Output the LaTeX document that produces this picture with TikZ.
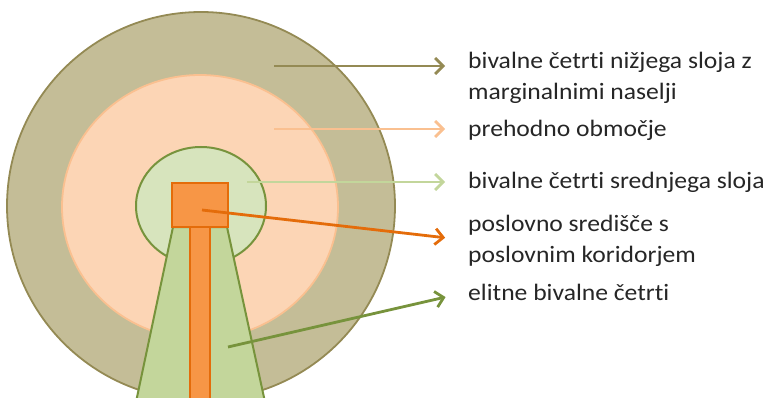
\documentclass[tikz,border=0pt]{standalone}
\usepackage{fontspec}
\setmainfont{Carlito}[FakeStretch=1.09,Ligatures=NoCommon]
\usetikzlibrary{arrows.meta}
\definecolor{ZnOlive}{HTML}{948A54}
\definecolor{ZnTan}{HTML}{C4BD97}
\definecolor{ZnPeach}{HTML}{FCD5B5}
\definecolor{ZnPeachLine}{HTML}{FAC090}
\definecolor{ZnPale}{HTML}{D7E4BD}
\definecolor{ZnLeaf}{HTML}{C3D69B}
\definecolor{ZnGreen}{HTML}{77933C}
\definecolor{ZnOrange}{HTML}{F79646}
\definecolor{ZnRust}{HTML}{E46C0A}
\definecolor{ZnInk}{HTML}{262626}

\begin{document}
\begin{tikzpicture}[x=1pt,y=-1pt,
  lbl/.style={anchor=base west,inner sep=0pt,align=left,text=ZnInk,font=\fontsize{23.5}{31}\selectfont},
  ptr/.style={line width=2.8pt,-{Straight Barb[length=8pt,width=16pt]},shorten >=23pt}]
\path[use as bounding box] (0,0) rectangle (768,398);
% zones
\begin{scope}
\clip (0,0) rectangle (768,398);
\filldraw[fill=ZnTan,draw=ZnOlive,line width=1.8pt] (201,206) circle[radius=194pt];
\filldraw[fill=ZnPeach,draw=ZnPeachLine,line width=1.8pt] (200,207) ellipse[x radius=138pt,y radius=132pt];
\filldraw[fill=ZnPale,draw=ZnGreen,line width=2pt] (201,206) ellipse[x radius=65pt,y radius=59pt];
\filldraw[fill=ZnLeaf,draw=ZnGreen,line width=2pt] (173,227) -- (227,227) -- (265,402) -- (136,402) -- cycle;
\filldraw[fill=ZnOrange,draw=ZnRust,line width=2pt] (190,227) rectangle (210,402);
\filldraw[fill=ZnOrange,draw=ZnRust,line width=2pt] (172,183) rectangle (228,227);
\end{scope}
% labels (base = last line)
\node[lbl] (l1) at (468,100) {bivalne četrti nižjega sloja z\\marginalnimi naselji};
\node[lbl] (l2) at (468,137) {prehodno območje};
\node[lbl] (l3) at (468,189) {bivalne četrti srednjega sloja};
\node[lbl] (l4) at (468,262) {poslovno središče s\\poslovnim koridorjem};
\node[lbl] (l5) at (468,300) {elitne bivalne četrti};
% arrows
\coordinate (c1) at (274,66);
\coordinate (c2) at (274,129);
\coordinate (c3) at (247,182);
\coordinate (c4) at (202,210);
\coordinate (c5) at (228,347);
\draw[ptr,ZnOlive] (c1) -- (c1 -| l1.west);
\draw[ptr,ZnPeachLine] (c2) -- (c2 -| l2.west);
\draw[ptr,ZnLeaf] (c3) -- (c3 -| l3.west);
\draw[ptr,ZnRust] (c4) -- (l4.west);
\draw[ptr,ZnGreen] (c5) -- (l5.west);
\end{tikzpicture}
\end{document}
